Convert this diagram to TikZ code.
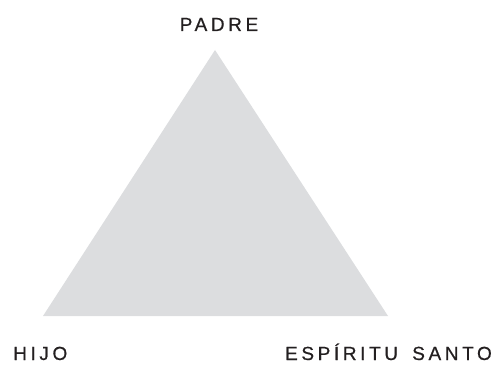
\documentclass[tikz,border=0pt]{standalone}
\usepackage{fontspec}
\setmainfont{Liberation Sans}[LetterSpace=19,FakeBold=0.6,WordSpace=1.6]
\definecolor{trigray}{HTML}{DCDDDF}
\definecolor{txt}{HTML}{231F20}
\begin{document}
\begin{tikzpicture}[x=1pt,y=1pt,
  lbl/.style={inner sep=0pt,text=txt,font=\fontsize{19}{22}\selectfont}]
\useasboundingbox (0,0) rectangle (492,364);
\coordinate (top) at (215,314);
\coordinate (bl) at (43,48);
\coordinate (br) at (388,48);
\fill[trigray] (top) -- (bl) -- (br) -- cycle;
\node[lbl,anchor=base] (padre) at (219,333) {PADRE};
\node[lbl,anchor=base west] (hijo) at (13,4) {HIJO};
\node[lbl,anchor=base east] (esp) at (492,4) {ESPÍRITU SANTO};
\end{tikzpicture}
\end{document}
